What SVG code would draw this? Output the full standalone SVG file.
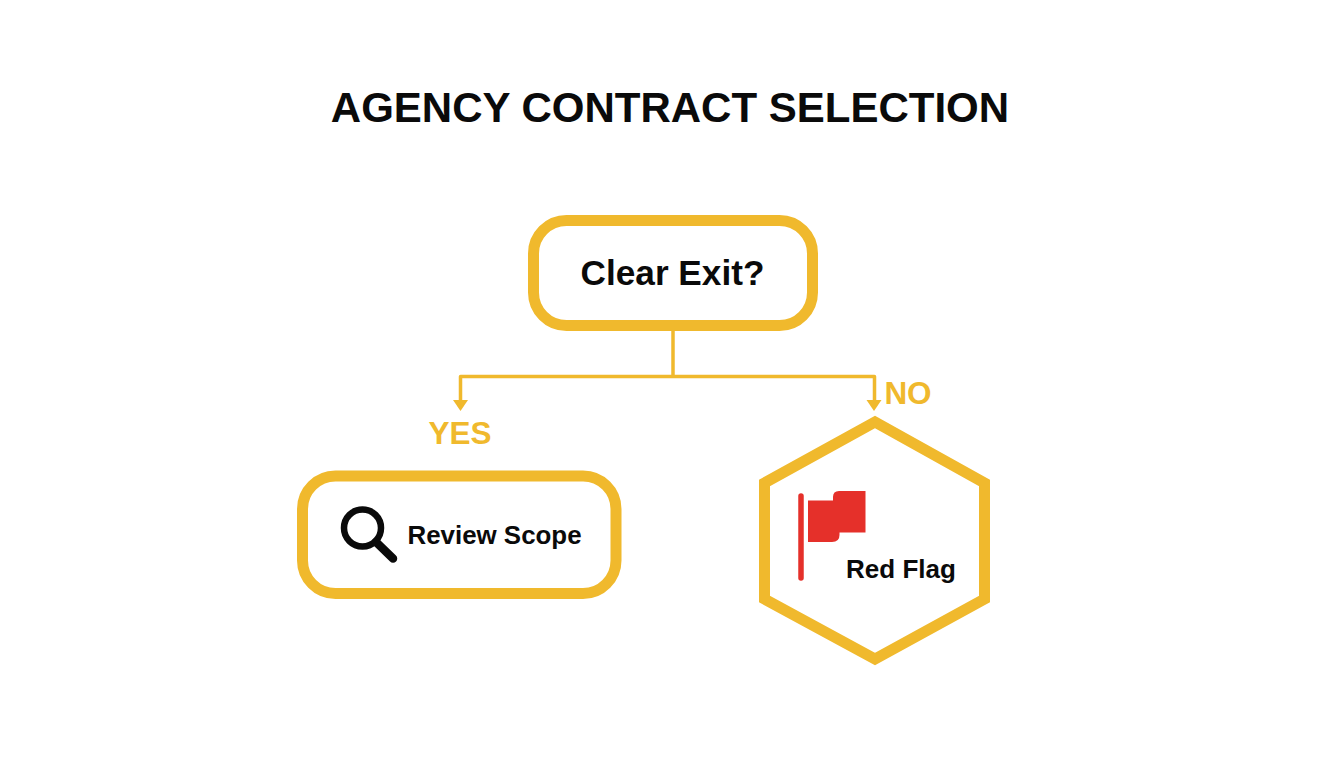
<svg xmlns="http://www.w3.org/2000/svg" width="1344" height="768" viewBox="0 0 1344 768">
<style>
text{font-family:"Liberation Sans",Arial,sans-serif;font-weight:700;fill:#0a0a0a}
.box{fill:#fff;stroke:#f0b92d;stroke-width:11}
.conn{fill:none;stroke:#f0b92d;stroke-width:3.500;stroke-linejoin:round}
.head{fill:#f0b92d}
.lab{fill:#f0b92d}
</style>
<rect width="1344" height="768" fill="#fff"/>
<text id="title" x="670" y="122" font-size="42" text-anchor="middle">AGENCY CONTRACT SELECTION</text>
<g id="connectors">
<path class="conn" d="M673 330V376"/>
<path class="conn" d="M460.500 402V376.500H874.500V402"/>
<polygon class="head" points="453,400 468,400 460.500,411"/>
<polygon class="head" points="866.500,400 881.500,400 874,411"/>
</g>
<g id="clear-exit">
<rect class="box" x="533.500" y="220.500" width="279" height="105" rx="33"/>
<text x="672.500" y="285" font-size="35.200" text-anchor="middle">Clear Exit?</text>
</g>
<text id="label-yes" class="lab" x="460" y="444" font-size="31.500" text-anchor="middle" style="fill:#f0b92d">YES</text>
<text id="label-no" class="lab" x="908" y="404" font-size="31.500" text-anchor="middle" style="fill:#f0b92d">NO</text>
<g id="review-scope">
<rect class="box" x="302.500" y="476" width="313.500" height="117.500" rx="33"/>
<circle cx="362.500" cy="528" r="18.500" fill="none" stroke="#0a0a0a" stroke-width="6.500"/>
<path d="M376 542L393 558.500" fill="none" stroke="#0a0a0a" stroke-width="8.500" stroke-linecap="round"/>
<text x="494.500" y="544" font-size="25.900" text-anchor="middle">Review Scope</text>
</g>
<g id="red-flag">
<polygon class="box" points="875,422 984.500,483 984.500,599 875,659 764.500,599 764.500,483"/>
<path d="M801 496V578" fill="none" stroke="#e5302a" stroke-width="5.500" stroke-linecap="round"/>
<path d="M808 500.500H833V497Q833 491 839 491H865.500V532.500H839.500V535Q839.500 542 832 542H808Z" fill="#e5302a"/>
<text x="901" y="578" font-size="26" text-anchor="middle">Red Flag</text>
</g>
</svg>
